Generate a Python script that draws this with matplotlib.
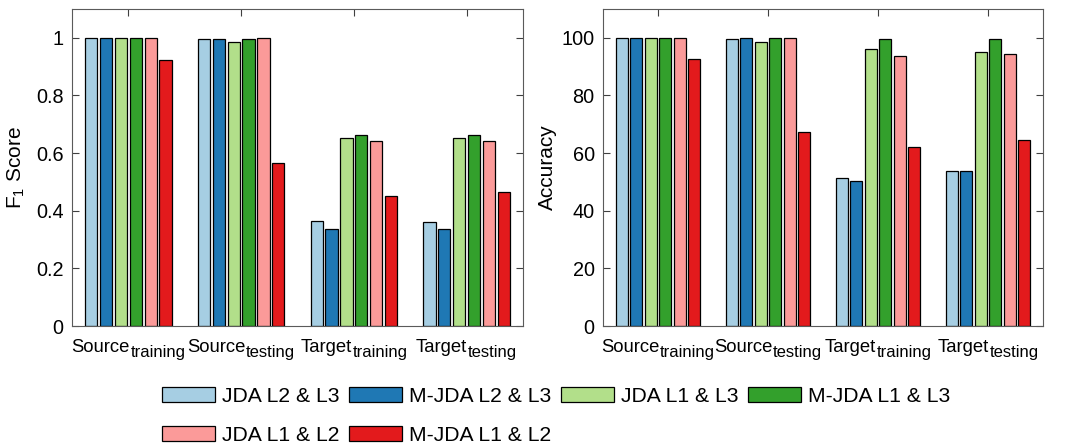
import numpy as np
import matplotlib.pyplot as plt
from matplotlib.patches import Patch
from matplotlib.transforms import IdentityTransform

plt.rcParams['font.family'] = ['Liberation Sans', 'DejaVu Sans']
plt.rcParams['mathtext.fontset'] = 'custom'
plt.rcParams['mathtext.rm'] = 'Liberation Sans'
plt.rcParams['mathtext.it'] = 'Liberation Sans'

group_main = ["Source", "Source", "Target", "Target"]
group_sub = ["training", "testing", "training", "testing"]
methods = ["JDA L2 & L3", "M-JDA L2 & L3", "JDA L1 & L3",
           "M-JDA L1 & L3", "JDA L1 & L2", "M-JDA L1 & L2"]
colors = ["#a6cee3", "#1f78b4", "#b2df8a", "#33a02c", "#fb9a99", "#e31a1c"]

# one list per method, one value per group
f1_jda_23 = [1.000, 0.996, 0.366, 0.361]
f1_mjda_23 = [1.000, 0.996, 0.338, 0.338]
f1_jda_13 = [1.000, 0.986, 0.652, 0.651]
f1_mjda_13 = [1.000, 0.997, 0.663, 0.664]
f1_jda_12 = [0.999, 1.000, 0.642, 0.641]
f1_mjda_12 = [0.924, 0.566, 0.451, 0.465]

acc_jda_23 = [100.0, 99.6, 51.4, 53.9]
acc_mjda_23 = [100.0, 99.8, 50.3, 53.9]
acc_jda_13 = [100.0, 98.6, 96.1, 95.0]
acc_mjda_13 = [100.0, 99.9, 99.6, 99.7]
acc_jda_12 = [99.9, 100.0, 93.6, 94.5]
acc_mjda_12 = [92.6, 67.4, 62.1, 64.5]

f1 = [f1_jda_23, f1_mjda_23, f1_jda_13, f1_mjda_13, f1_jda_12, f1_mjda_12]
acc = [acc_jda_23, acc_mjda_23, acc_jda_13, acc_mjda_13, acc_jda_12, acc_mjda_12]

W, H = 1066, 446
fig = plt.figure(figsize=(W / 100, H / 100), dpi=100)
ax1 = fig.add_axes([72 / W, 1 - 326 / H, 451 / W, 317 / H])
ax2 = fig.add_axes([603 / W, 1 - 326 / H, 440 / W, 317 / H])

x = np.arange(1, len(group_main) + 1)
pitch = 0.132
width = 0.108


def draw(ax, data, ymax, yticks, ylabel):
    for i, vals in enumerate(data):
        ax.bar(x + (i - 2.5) * pitch, vals, width, color=colors[i],
               edgecolor="black", linewidth=0.9)
    ax.set_xlim(0.5, 4.5)
    ax.set_ylim(0, ymax)
    ax.set_xticks(x)
    ax.set_xticklabels([])
    ax.set_yticks(yticks)
    ax.tick_params(axis="y", direction="in", right=True,
                   labelsize=14.3, length=5, color="#404040", pad=6)
    ax.tick_params(axis="x", direction="in", top=True, bottom=False,
                   length=5, color="#404040")
    for s in ax.spines.values():
        s.set_color("#5a5a5a")
        s.set_linewidth(0.8)
    ax.set_ylabel(ylabel, fontsize=15)


draw(ax1, f1, 1.1, [0, 0.2, 0.4, 0.6, 0.8, 1.0], r"F$_1$ Score")
ax1.set_yticklabels(["0", "0.2", "0.4", "0.6", "0.8", "1"])
ax1.yaxis.set_label_coords(-0.1, 0.5)
draw(ax2, acc, 110, [0, 20, 40, 60, 80, 100], "Accuracy")
ax2.yaxis.set_label_coords(-0.1045, 0.5)

# category labels with larger subscripts than mathtext gives
renderer = fig.canvas.get_renderer()
base_y = H - 352
for ax in (ax1, ax2):
    for xi, main, sub in zip(x, group_main, group_sub):
        xpix = ax.transData.transform((xi, 0))[0]
        t = fig.text(0, base_y, main, fontsize=13.3, va="baseline",
                     transform=IdentityTransform())
        s = fig.text(0, base_y - 5, sub, fontsize=12, va="baseline",
                     transform=IdentityTransform())
        wm = t.get_window_extent(renderer).width
        ws = s.get_window_extent(renderer).width
        x0 = xpix - (wm + ws + 1) / 2
        t.set_x(x0)
        s.set_x(x0 + wm + 1)

handles = [Patch(facecolor=c, edgecolor="black", linewidth=0.9) for c in colors]
# column-major ordering so rows read left to right
order = [0, 4, 1, 5, 2, 3]
fig.legend([handles[i] for i in order], [methods[i] for i in order],
           loc="upper left", bbox_to_anchor=(162 / W, 1 - 387 / H),
           ncol=4, frameon=False, fontsize=15.2, handlelength=2.5,
           handleheight=0.72, handletextpad=0.35, columnspacing=0.45,
           labelspacing=0.95, borderpad=0, borderaxespad=0)

fig.savefig("out.png", dpi=100)
